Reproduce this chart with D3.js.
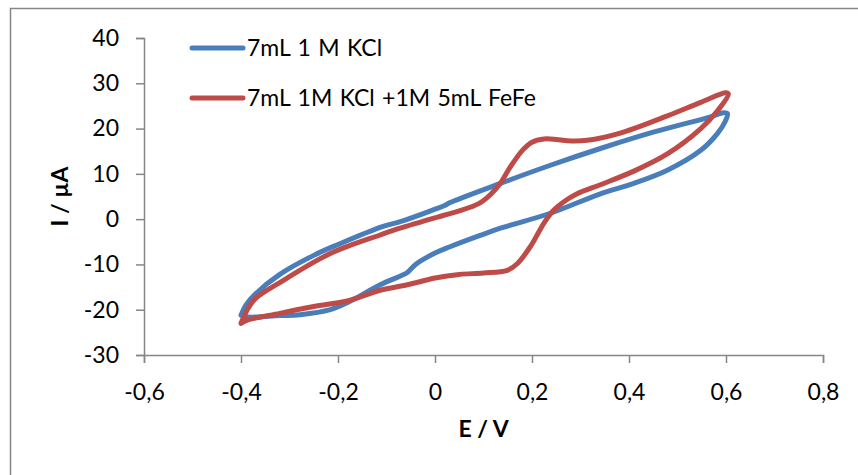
<!DOCTYPE html>
<html>
<head>
<meta charset="utf-8">
<script src="https://cdn.jsdelivr.net/npm/d3@7"></script>
<style>
  html, body { margin: 0; padding: 0; background: #fff; }
  svg { display: block; }
  text { font-family: Lato, "Open Sans", sans-serif; fill: #000; }
</style>
</head>
<body>
<svg id="chart" width="858" height="475"></svg>
<script>
// Cyclic voltammograms: potential E (V) and current I (µA), one closed loop per series
const kclE = [-0.400,-0.390,-0.370,-0.320,-0.250,-0.200,-0.110,-0.070,0.000,0.020,0.030,0.135,0.238,0.341,0.450,0.568,0.595,0.603,
              0.598,0.583,0.548,0.479,0.410,0.341,0.238,0.135,0.093,0.031,0.000,-0.040,-0.057,-0.070,-0.113,-0.180,-0.216,-0.278,-0.320,-0.387,-0.400];
const kclI = [-21.2,-19.0,-16.5,-12.2,-8.0,-5.6,-1.7,-0.5,2.2,3.0,3.6,7.9,11.9,15.6,19.2,22.6,23.5,23.3,
              21.5,19.0,15.2,10.8,7.9,5.6,1.3,-2.0,-3.6,-6.1,-7.5,-10.0,-11.8,-12.5,-14.5,-18.4,-20.0,-21.1,-21.3,-21.6,-21.2];

const fefeE = [-0.400,-0.387,-0.370,-0.320,-0.216,-0.113,-0.072,0.017,0.050,0.093,0.115,0.135,0.155,0.182,0.200,0.225,0.250,0.273,0.314,0.382,0.479,0.548,0.600,0.605,
               0.583,0.548,0.479,0.410,0.341,0.293,0.265,0.245,0.225,0.197,0.170,0.149,0.100,0.050,0.000,-0.057,-0.113,-0.175,-0.250,-0.320,-0.387,-0.400];
const fefeI = [-23.0,-20.0,-17.5,-14.0,-7.6,-3.5,-2.0,0.8,1.8,3.6,5.5,8.0,11.5,15.4,17.0,17.7,17.6,17.3,17.4,19.0,22.8,25.8,27.9,27.6,
               24.0,20.0,14.4,10.6,7.6,5.6,3.8,2.0,-0.8,-6.0,-9.8,-11.3,-11.9,-12.2,-13.0,-14.5,-15.7,-17.9,-19.3,-20.8,-22.3,-23.0];

const seriesNames = ["7mL 1 M KCl", "7mL 1M KCl +1M 5mL FeFe"];
const seriesColors = ["#4A7EBB", "#BE4B48"];

const xTicks = [-0.6,-0.4,-0.2,0,0.2,0.4,0.6,0.8];
const yTicks = [-30,-20,-10,0,10,20,30,40];
const xTitle = "E / V";
const yTitle = "I / µA";

const series = [
  { name: seriesNames[0], color: seriesColors[0], pts: kclE.map((e, i) => [e, kclI[i]]) },
  { name: seriesNames[1], color: seriesColors[1], pts: fefeE.map((e, i) => [e, fefeI[i]]) }
];

const svg = d3.select("#chart");
const plot = { left: 144, right: 823, top: 38, bottom: 355 };
const fontSize = 23;

const x = d3.scaleLinear().domain([-0.6, 0.8]).range([plot.left, plot.right]);
const y = d3.scaleLinear().domain([-30, 40]).range([plot.bottom, plot.top]);

// decimal comma labels
const fmt = v => (Math.abs(v) < 1e-9 ? "0" : String(+v.toFixed(1)).replace(".", ","));

// outer chart frame
svg.append("rect")
  .attr("x", 10.5).attr("y", 8.5).attr("width", 880).attr("height", 500)
  .attr("fill", "none").attr("stroke", "#868686").attr("stroke-width", 1.5);

// axes
const xAxis = svg.append("g")
  .attr("transform", `translate(0,${plot.bottom})`)
  .call(d3.axisBottom(x).tickValues(xTicks).tickFormat(fmt).tickSize(8).tickPadding(21));
const yAxis = svg.append("g")
  .attr("transform", `translate(${plot.left},0)`)
  .call(d3.axisLeft(y).tickValues(yTicks).tickFormat(d => d).tickSize(8).tickPadding(17));

[xAxis, yAxis].forEach(g => {
  g.select(".domain").attr("stroke", "#868686").attr("stroke-width", 1.5);
  g.selectAll(".tick line").attr("stroke", "#868686").attr("stroke-width", 1.5);
  g.selectAll(".tick text").attr("font-size", fontSize).attr("font-family", "Lato, sans-serif").attr("fill", "#000");
});

// axis titles
svg.append("text")
  .attr("x", (plot.left + plot.right) / 2).attr("y", 437)
  .attr("text-anchor", "middle").attr("font-size", fontSize).attr("font-weight", "bold")
  .text(xTitle);
svg.append("text")
  .attr("transform", `translate(68,${(plot.top + plot.bottom) / 2}) rotate(-90)`)
  .attr("text-anchor", "middle").attr("font-size", fontSize).attr("font-weight", "bold")
  .text(yTitle);

// curves
const line = d3.line()
  .x(d => x(d[0])).y(d => y(d[1]))
  .curve(d3.curveCatmullRom.alpha(0.5));

svg.append("g").selectAll("path")
  .data(series)
  .join("path")
  .attr("d", d => line(d.pts))
  .attr("fill", "none")
  .attr("stroke", d => d.color)
  .attr("stroke-width", 5)
  .attr("stroke-linejoin", "round")
  .attr("stroke-linecap", "round");

// legend
const legend = svg.append("g");
series.forEach((s, i) => {
  const ly = 48 + i * 50;
  legend.append("line")
    .attr("x1", 192).attr("x2", 243).attr("y1", ly).attr("y2", ly)
    .attr("stroke", s.color).attr("stroke-width", 5).attr("stroke-linecap", "round");
  legend.append("text")
    .attr("x", 247).attr("y", ly).attr("dy", "0.35em")
    .attr("font-size", fontSize)
    .attr("word-spacing", 1.5)
    .text(s.name);
});
</script>
</body>
</html>
